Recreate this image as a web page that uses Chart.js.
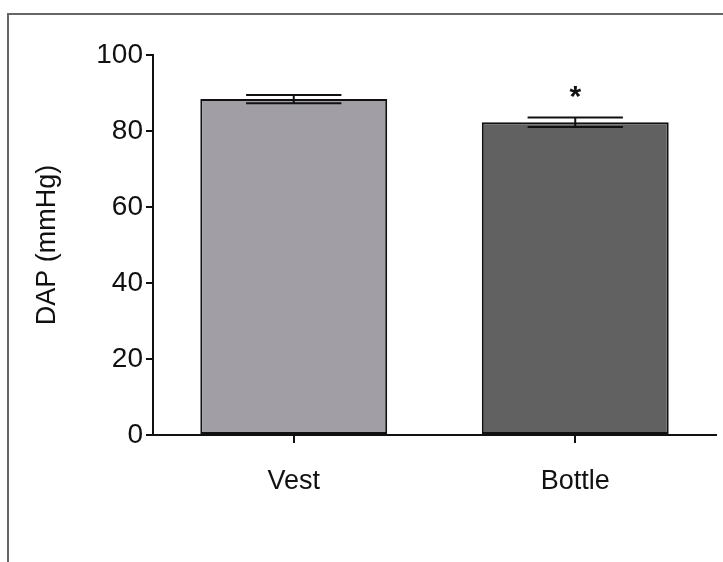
<!DOCTYPE html>
<html>
<head>
<meta charset="utf-8">
<script src="https://cdn.jsdelivr.net/npm/chart.js@4"></script>
<style>
  html,body{margin:0;padding:0;background:#fff;}
  #wrap{position:relative;width:723px;height:562px;}
  #frame{position:absolute;left:7px;top:13px;width:720px;height:560px;border-left:2px solid #666;border-top:2px solid #666;box-sizing:border-box;}
  canvas{position:absolute;left:0;top:0;}
</style>
</head>
<body>
<div id="wrap">
  <div id="frame"></div>
  <canvas id="c" width="723" height="562"></canvas>
</div>
<script>
// data
const groups=['Vest','Bottle'];
const dapMean=[88.4,82.3];
const dapSem=[1.1,1.25];
const signif=['','*'];
const barColors=['#a19fa5','#616161'];

const errBars={
  id:'errBars',
  afterDatasetsDraw(chart){
    const ctx=chart.ctx, y=chart.scales.y;
    const meta=chart.getDatasetMeta(0);
    ctx.save();
    ctx.strokeStyle='#111';
    ctx.lineWidth=2;
    meta.data.forEach((bar,i)=>{
      const cx=bar.x;
      const half=(bar.width||187)*0.255;
      const yHi=y.getPixelForValue(dapMean[i]+dapSem[i]);
      const yLo=y.getPixelForValue(dapMean[i]-dapSem[i]);
      ctx.beginPath();
      ctx.moveTo(cx,yHi); ctx.lineTo(cx,yLo);
      ctx.moveTo(cx-half,yHi); ctx.lineTo(cx+half,yHi);
      ctx.moveTo(cx-half,yLo); ctx.lineTo(cx+half,yLo);
      ctx.stroke();
      if(signif[i]){
        ctx.fillStyle='#111';
        ctx.font='bold 30px "Liberation Sans", Arial, sans-serif';
        ctx.textAlign='center';
        ctx.textBaseline='middle';
        ctx.fillText(signif[i],cx,yHi-20);
      }
    });
    ctx.restore();
  }
};

const font='"Liberation Sans", Arial, sans-serif';
new Chart(document.getElementById('c').getContext('2d'),{
  type:'bar',
  data:{labels:groups,datasets:[{data:dapMean,backgroundColor:barColors,borderColor:'#111',borderWidth:2,borderSkipped:false,barPercentage:0.664,categoryPercentage:1}]},
  options:{
    responsive:false,animation:false,
    layout:{padding:{left:31,right:7,top:55,bottom:0}},
    plugins:{legend:{display:false},tooltip:{enabled:false}},
    scales:{
      x:{
        grid:{display:true,drawOnChartArea:false,offset:false,tickLength:8,color:'#111',lineWidth:2},
        border:{color:'#111',width:2},
        ticks:{color:'#111',padding:22,font:{family:font,size:27}},
        afterFit(s){s.height=127;}
      },
      y:{
        min:0,max:100,
        grid:{display:true,drawOnChartArea:false,tickLength:7,color:'#111',lineWidth:2},
        border:{color:'#111',width:2},
        ticks:{stepSize:20,color:'#111',padding:3,font:{family:font,size:28}},
        title:{display:true,text:'DAP (mmHg)',color:'#111',padding:{top:0,bottom:0},font:{family:font,size:27}},
        afterFit(s){s.width=122;}
      }
    }
  },
  plugins:[errBars]
});
</script>
</body>
</html>
